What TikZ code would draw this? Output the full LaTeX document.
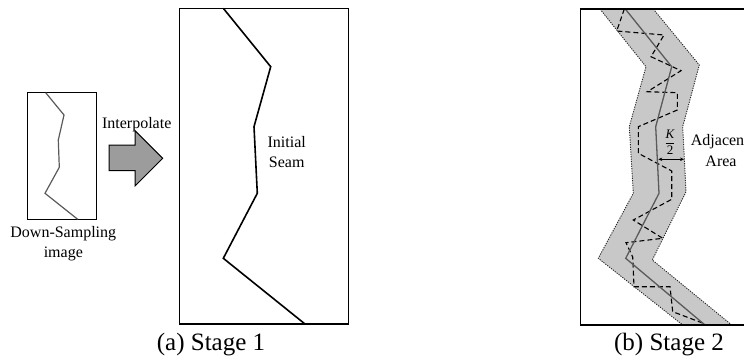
\documentclass[tikz,border=0pt]{standalone}
\usepackage{fontspec}
\setmainfont{Liberation Serif}
\usetikzlibrary{arrows.meta}
\definecolor{bandgray}{HTML}{C8C8C8}
\definecolor{arrowgray}{HTML}{9C9C9C}
\definecolor{seamgray}{HTML}{5A5A5A}
\tikzset{
  frame/.style={draw=black,line width=1.3pt},
  lbl/.style={inner sep=0pt,font=\fontsize{16}{20}\selectfont,align=center},
  caption/.style={inner sep=0pt,font=\fontsize{25}{28}\selectfont},
  bandedge/.style={draw=black!85,line width=0.9pt,dash pattern=on 1.2pt off 1.2pt},
  pathdash/.style={draw=black,line width=1.1pt,dash pattern=on 5pt off 3pt},
}
\begin{document}
\begin{tikzpicture}[x=1pt,y=-1pt]
\useasboundingbox (0,0) rectangle (744,361);
\begin{scope}
\clip (0,0) rectangle (744,361);
% ---------- left: down-sampling image ----------
\draw[frame,line width=1pt] (27.7,92.7) rectangle (96.7,219.3);
\draw[seamgray,line width=1.2pt,line join=miter]
  (45.7,92.7) -- (64,115) -- (58.3,140) -- (59.3,167.3) -- (45,193.3) -- (77.7,219.3);
\node[lbl] (ds) at (63.3,244) {Down-Sampling\\image};
% interpolate arrow
\node[lbl] (interp) at (136.7,125) {Interpolate};
\draw[fill=arrowgray,line width=1pt,line join=miter]
  (109,145) -- (135,145) -- (135,130.7) -- (162.7,158.3) -- (135,186) -- (135,170.7) -- (109,170.7) -- cycle;
% ---------- stage 1 ----------
\draw[black,line width=1.6pt,line join=miter]
  (223.3,8.3) -- (270.7,66.7) -- (254,126.7) -- (257.3,193.3) -- (223.3,258.3) -- (305,324);
\draw[frame] (179.3,8.3) rectangle (348.3,324);
\node[lbl] (seam) at (286.7,151.7) {Initial\\Seam};
\node[caption] (capa) at (211,345) {(a) Stage 1};
% ---------- stage 2 ----------
\fill[bandgray] (600,9) -- (646,66.7) -- (629.3,126.7) -- (633.3,193.3) -- (598.3,258.3) -- (682.7,325)
  -- (731.7,325) -- (652.3,260) -- (686,191.7) -- (682.7,126.7) -- (699.3,65) -- (653.3,9) -- cycle;
\draw[bandedge] (600,9) -- (646,66.7) -- (629.3,126.7) -- (633.3,193.3) -- (598.3,258.3) -- (682.7,325);
\draw[bandedge] (653.3,9) -- (699.3,65) -- (682.7,126.7) -- (686,191.7) -- (652.3,260) -- (731.7,325);
\draw[pathdash]
  (624.3,9) -- (616.7,31) -- (664,35) -- (651,56.7) -- (681,70.7) -- (647.3,91.7) -- (677.3,92.7)
  -- (677.3,110) -- (638.3,126.7) -- (638.3,153.3) -- (671.7,171) -- (671.7,199.3) -- (633.3,220)
  -- (662.7,238.3) -- (626,242.7) -- (632.7,257) -- (634,286.7) -- (670,286.7) -- (672.7,311.7) -- (703.3,323.3);
\draw[seamgray,line width=1.3pt,line join=miter]
  (625.3,9) -- (671.7,66.7) -- (655.7,126.7) -- (659,193.3) -- (625.7,258.3) -- (705,325);
\draw[frame] (580.7,9) rectangle (760,325);
\coordinate (ka) at (658.3,159.3);
\coordinate (kb) at (684,159.3);
\draw[black,line width=0.8pt,{Stealth[length=4pt,width=3.5pt]}-{Stealth[length=4pt,width=3.5pt]}] (ka) -- (kb);
\node[inner sep=0pt,font=\fontsize{13}{15}\selectfont] (kfrac) at (670,142.3) {$\displaystyle\frac{\textit{K}}{\textrm{2}}$};
\node[lbl,anchor=west] (adj) at (690.7,141.7) {Adjacen};
\node[lbl] (area) at (721,161) {Area};
\node[caption] (capb) at (669,345) {(b) Stage 2};
\end{scope}
\end{tikzpicture}
\end{document}
